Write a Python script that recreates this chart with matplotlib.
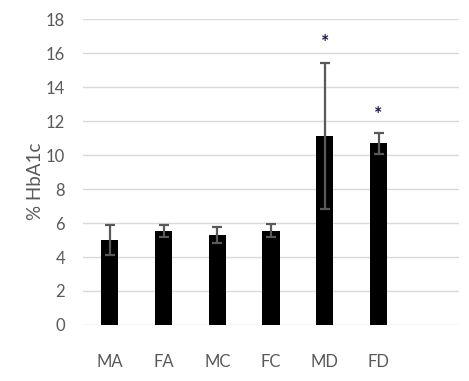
import matplotlib.pyplot as plt

groups = ['MA', 'FA', 'MC', 'FC', 'MD', 'FD', '']
hba1c = [5.0, 5.53, 5.3, 5.55, 11.1, 10.68, 0]
sd = [0.9, 0.37, 0.45, 0.4, 4.3, 0.62, 0]
stars = {4: 16.6, 5: 12.4}

plt.rcParams['font.family'] = ['Lato', 'DejaVu Sans']

fig = plt.figure(figsize=(4.69, 3.81), dpi=100)
ax = fig.add_axes([0.177, 0.147, 0.802, 0.803])

x = list(range(len(groups)))
ax.bar(x[:6], hba1c[:6], width=0.32, color='black', zorder=3)
ax.errorbar(x[:6], hba1c[:6], yerr=sd[:6], fmt='none', ecolor='#595959',
            elinewidth=1.6, capsize=3.3, capthick=1.6, zorder=4)

for i, y in stars.items():
    ax.text(i, y, '*', ha='center', va='center', fontsize=14,
            color='#1c1640', fontweight='bold', zorder=5)

ax.set_xlim(-0.5, 6.5)
ax.set_ylim(0, 18)
ax.set_yticks(range(0, 19, 2))
ax.set_xticks(x)
ax.set_xticklabels(groups)
ax.grid(axis='y', color='#d9d9d9', linewidth=1, zorder=0)
for s in ax.spines.values():
    s.set_visible(False)
ax.tick_params(length=0, colors='#595959', labelsize=12)
ax.tick_params(axis='x', pad=21)
ax.tick_params(axis='y', pad=13)
ax.set_ylabel('% HbA1c', fontsize=13.5, color='#595959')
ax.yaxis.set_label_coords(-0.105, 0.47)

fig.savefig('out.png', dpi=100)
